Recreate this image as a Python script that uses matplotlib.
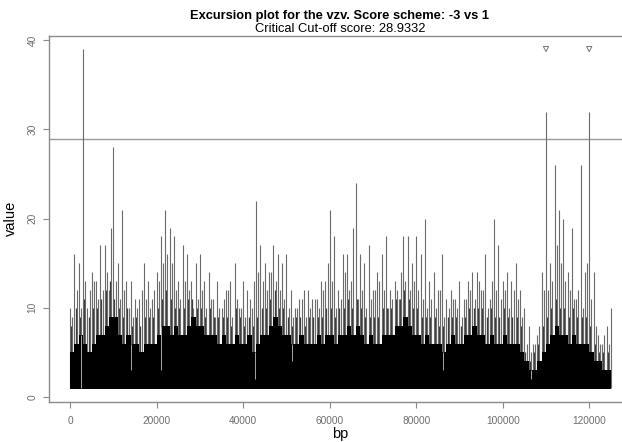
"""Excursion plot for the vzv genome (score scheme -3 vs 1), R-style type="h" look."""
import numpy as np
import matplotlib
matplotlib.use("Agg")
import matplotlib.pyplot as plt

AXIS = "#8a8a8a"
TICKTXT = "#6e6e6e"
SPIKE = "#6a6a6a"

CUTOFF = 28.9332

# highest score in each 1 kb window, starting at bp 0
peak = [
    10, 16, 15, 39, 10, 14, 13, 17, 17, 12,
    28, 15, 21, 13, 13, 11, 11, 15, 13, 11,
    14, 18, 21, 19, 18, 13, 17, 16, 13, 15,
    16, 13, 14, 11, 13, 10, 12, 13, 15, 10,
    13, 12, 10, 22, 17, 15, 14, 17, 16, 15,
    16, 12, 10, 11, 12, 12, 11, 11, 13, 13,
    21, 18, 12, 16, 16, 13, 24, 16, 15, 17,
    12, 14, 16, 18, 12, 13, 11, 18, 18, 15,
    18, 16, 20, 13, 14, 12, 16, 11, 12, 11,
    13, 11, 13, 14, 14, 12, 16, 11, 20, 17,
    13, 14, 13, 15, 12, 10, 8, 6, 7, 14,
    32, 15, 26, 21, 20, 14, 19, 11, 26, 14,
    32, 14, 7, 6, 8, 10,
]

# secondary scores, half-way between the windows above
second = [
    9, 12, 10, 13, 12, 13, 11, 12, 14, 19,
    13, 11, 12, 10, 9, 10, 12, 11, 10, 12,
    13, 15, 16, 15, 12, 11, 13, 12, 10, 11,
    12, 10, 11, 9, 10, 11, 12, 9, 11, 10,
    9, 11, 13, 14, 13, 12, 14, 13, 12, 11,
    10, 9, 10, 11, 9, 10, 11, 10, 12, 15,
    13, 10, 11, 14, 12, 19, 11, 12, 10, 11,
    12, 13, 12, 10, 11, 12, 14, 13, 12, 13,
    12, 11, 10, 11, 10, 12, 9, 10, 11, 10,
    9, 11, 12, 11, 13, 12, 10, 13, 12, 11,
    12, 10, 12, 11, 9, 6, 5, 6, 8, 12,
    12, 13, 17, 15, 13, 12, 11, 12, 10, 15,
    11, 8, 6, 7, 6,
]

# dense band just above the floor, a quarter of the way into each window
third = [
    8, 10, 9, 11, 9, 10, 10, 11, 12, 13,
    11, 10, 9, 10, 8, 9, 8, 9, 9, 9,
    10, 11, 12, 11, 10, 10, 10, 11, 11, 10,
    10, 9, 10, 9, 9, 9, 9, 8, 10, 9,
    8, 9, 8, 9, 10, 10, 11, 12, 10, 10,
    9, 8, 9, 9, 8, 9, 9, 9, 9, 10,
    10, 9, 10, 10, 11, 10, 11, 10, 9, 9,
    9, 9, 10, 10, 10, 11, 11, 12, 11, 10,
    10, 9, 9, 9, 9, 8, 8, 9, 9, 9,
    8, 9, 10, 10, 10, 10, 9, 10, 9, 9,
    10, 9, 9, 9, 8, 5, 4, 5, 6, 8,
    9, 10, 11, 10, 10, 9, 10, 9, 9, 9,
    8, 6, 5, 5, 5,
]

# level reached by (almost) every position in each 1 kb window
floor = [
    5, 6, 7, 6, 5, 6, 7, 7, 8, 9,
    9, 7, 6, 7, 6, 6, 5, 6, 6, 6,
    7, 8, 8, 7, 8, 7, 7, 8, 9, 8,
    8, 7, 7, 7, 6, 7, 6, 6, 7, 6,
    6, 7, 5, 6, 7, 7, 8, 9, 8, 7,
    7, 6, 6, 7, 6, 6, 6, 7, 6, 7,
    7, 6, 7, 7, 8, 7, 8, 7, 6, 7,
    6, 6, 7, 7, 7, 8, 8, 9, 8, 7,
    7, 6, 7, 6, 6, 6, 5, 6, 7, 6,
    6, 7, 7, 8, 7, 7, 6, 7, 6, 6,
    7, 6, 6, 6, 5, 4, 3, 3, 4, 5,
    6, 7, 8, 7, 7, 6, 7, 6, 6, 6,
    5, 4, 4, 3, 3, 4,
]

# isolated low-scoring positions that cut through the black mass
gap_bp = [2600, 14000, 21000, 42800, 51200, 86300, 106600]
gap_val = [1, 3, 3, 2, 4, 3, 2]

# excursions flagged with a triangle
marked_bp = [110000, 120000]

plt.rcParams.update({
    "font.family": ["Liberation Sans", "DejaVu Sans"],
})

bp = np.arange(len(peak)) * 1000
bp2 = np.arange(len(second)) * 1000 + 500
bp3 = np.arange(len(third)) * 1000 + 250

fig = plt.figure(figsize=(6.22, 4.42), dpi=100)
ax = fig.add_axes([48.5 / 622, 40.3 / 442, 584 / 622, 366.2 / 442])

ax.vlines(bp3, 1, third, color="#3a3a3a", linewidth=0.9, zorder=2,
          capstyle="butt")
ax.vlines(bp2, 1, second, color=SPIKE, linewidth=0.8, zorder=2,
          capstyle="butt")
ax.vlines(bp, 1, peak, color=SPIKE, linewidth=0.8, zorder=2, capstyle="butt")
# black mass; starts a hair below 1 so it hides the snapped spike ends
ax.fill_between(bp, 0.9, floor, step="post", color="black", linewidth=0,
                antialiased=False, zorder=3)
fl = np.array(floor)
ax.vlines(gap_bp, gap_val, fl[np.array(gap_bp) // 1000], color="#a8a8a8",
          linewidth=0.7, zorder=4, capstyle="butt")

ax.axhline(CUTOFF, color="#9a9a9a", linewidth=1.0, zorder=1)
ax.scatter(marked_bp, [max(peak)] * len(marked_bp), marker="v", s=14,
           facecolors="none", edgecolors="#777777", linewidths=0.7, zorder=5)

ax.set_xlim(-5000, 130000)
ax.set_ylim(-0.52, 40.52)
ax.set_xticks(np.arange(0, 120001, 20000))
ax.set_yticks([0, 10, 20, 30, 40])
ax.set_xticklabels([str(v) for v in range(0, 120001, 20000)])
for lab in ax.get_yticklabels():
    lab.set_rotation(90)
    lab.set_va("center")
ax.tick_params(colors=AXIS, labelcolor=TICKTXT, labelsize=7.3, length=4,
               width=0.8, direction="out")
ax.tick_params(axis="x", pad=6)
ax.tick_params(axis="y", pad=4)
for s in ax.spines.values():
    s.set_color(AXIS)
    s.set_linewidth(1.0)

ax.set_xlabel("bp", fontsize=10.5, labelpad=1)
ax.set_ylabel("value", fontsize=10.5, labelpad=7)

fig.text(340 / 622, 1 - 16 / 442, "Excursion plot for the vzv. Score scheme: -3 vs 1",
         ha="center", va="center", fontsize=9.3, fontweight="bold")
fig.text(340 / 622, 1 - 29.5 / 442, f"Critical Cut-off score: {CUTOFF}",
         ha="center", va="center", fontsize=9.3)

fig.savefig("out.png", dpi=100)
